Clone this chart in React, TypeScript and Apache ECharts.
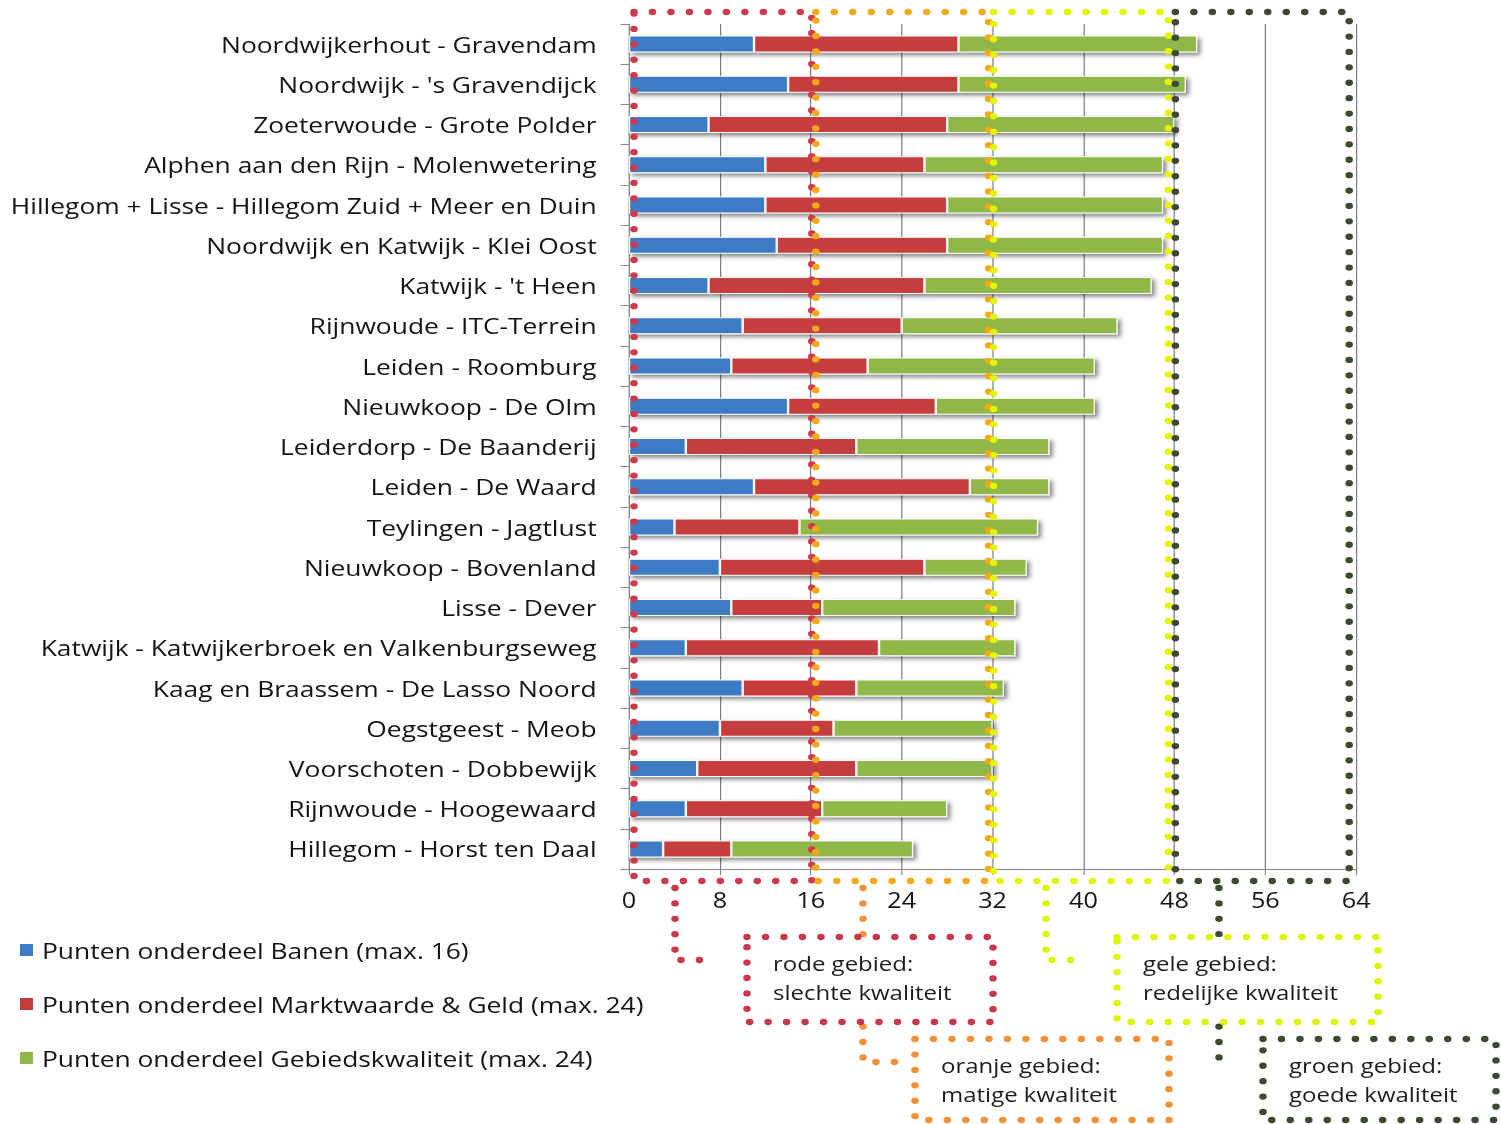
import React, { useEffect, useRef } from "react";
import * as echarts from "echarts";

// Projects, sorted by total score
const categories = [
  "Noordwijkerhout - Gravendam",
  "Noordwijk - 's Gravendijck",
  "Zoeterwoude - Grote Polder",
  "Alphen aan den Rijn - Molenwetering",
  "Hillegom + Lisse - Hillegom Zuid + Meer en Duin",
  "Noordwijk en Katwijk - Klei Oost",
  "Katwijk - 't Heen",
  "Rijnwoude - ITC-Terrein",
  "Leiden - Roomburg",
  "Nieuwkoop - De Olm",
  "Leiderdorp - De Baanderij",
  "Leiden - De Waard",
  "Teylingen - Jagtlust",
  "Nieuwkoop - Bovenland",
  "Lisse - Dever",
  "Katwijk - Katwijkerbroek en Valkenburgseweg",
  "Kaag en Braassem - De Lasso Noord",
  "Oegstgeest - Meob",
  "Voorschoten - Dobbewijk",
  "Rijnwoude - Hoogewaard",
  "Hillegom - Horst ten Daal",
];

const banen = [11, 14, 7, 12, 12, 13, 7, 10, 9, 14, 5, 11, 4, 8, 9, 5, 10, 8, 6, 5, 3];
const marktwaarde = [18, 15, 21, 14, 16, 15, 19, 14, 12, 13, 15, 19, 11, 18, 8, 17, 10, 10, 14, 12, 6];
const gebiedskwaliteit = [21, 20, 20, 21, 19, 19, 20, 19, 20, 14, 17, 7, 21, 9, 17, 12, 13, 14, 12, 11, 16];

const seriesNames = [
  "Punten onderdeel Banen (max. 16)",
  "Punten onderdeel Marktwaarde & Geld (max. 24)",
  "Punten onderdeel Gebiedskwaliteit (max. 24)",
];

// Quality zones along the score axis
const zoneBounds = [0, 16, 32, 48, 64];
const zoneTitles = ["rode gebied:", "oranje gebied:", "gele gebied:", "groen gebied:"];
const zoneNotes = ["slechte kwaliteit", "matige kwaliteit", "redelijke kwaliteit", "goede kwaliteit"];

const xTicks = { min: 0, max: 64, interval: 8 };

const SX = 1.2; // horizontal stretch of the whole drawing
const FULL_W = 1501;
const FULL_H = 1124;
const INNER_W = FULL_W / SX;

const BAR_COLORS = ["#3d7bc4", "#c63d3d", "#8fb84a"];
const ZONE_COLORS = ["#cc3a4c", "#f5a914", "#e4f500", "#3c4a2e"];
const BOX_COLORS = ["#c8384c", "#f3913a", "#dcf500", "#3c4a2e"];
const FONT = "'Open Sans', 'DejaVu Sans', sans-serif";

export default function App() {
  const ref = useRef<HTMLDivElement>(null);

  useEffect(() => {
    const el = ref.current;
    if (!el) return;
    const chart = echarts.init(el, null, { renderer: "svg" });
    const values = [banen, marktwaarde, gebiedskwaliteit];
    const gray = "#8a8a8a";

    chart.setOption({
      animation: false,
      backgroundColor: "#ffffff",
      grid: {
        left: 629 / SX,
        right: INNER_W - 1356 / SX,
        top: 24,
        bottom: FULL_H - 869,
      },
      xAxis: {
        type: "value",
        min: xTicks.min,
        max: xTicks.max,
        interval: xTicks.interval,
        axisLine: { show: true, lineStyle: { color: gray, width: 1 } },
        axisTick: { show: true, length: 6, lineStyle: { color: gray } },
        splitLine: { show: true, lineStyle: { color: "#7c7c7c", width: 1 } },
        axisLabel: { margin: 20, fontFamily: FONT, fontSize: 21, color: "#141414" },
      },
      yAxis: {
        type: "category",
        inverse: true,
        data: categories,
        axisLine: { show: true, lineStyle: { color: gray, width: 1 } },
        axisTick: { show: true, length: 7, lineStyle: { color: gray } },
        axisLabel: { margin: 27, fontFamily: FONT, fontSize: 22, color: "#141414" },
      },
      series: values.map((v, i) => ({
        type: "bar",
        name: seriesNames[i],
        stack: "punten",
        data: v,
        barWidth: 17,
        itemStyle: {
          color: BAR_COLORS[i],
          borderColor: "#ffffff",
          borderWidth: 1,
          shadowColor: "rgba(0,0,0,0.5)",
          shadowBlur: 4,
          shadowOffsetX: 2.5,
          shadowOffsetY: 2.5,
        },
      })),
    });

    const px = (v: number) => chart.convertToPixel({ xAxisIndex: 0 }, v) as number;
    const ix = (p: number) => p / SX;
    const dots = (color: string, fill: string | null = null) => ({
      fill,
      stroke: color,
      lineWidth: 6.3,
      lineDash: [0, 15.4],
      lineCap: "round",
    });

    const elements: any[] = [];

    // dotted zone frames over the plot (insets in final pixels)
    const insets = [
      [5, 1],
      [5, -4],
      [1, -6],
      [1, -7],
    ];
    for (let i = 0; i < 4; i++) {
      const x1 = px(zoneBounds[i]) + ix(insets[i][0]);
      const x2 = px(zoneBounds[i + 1]) + ix(insets[i][1]);
      elements.push({
        type: "rect",
        silent: true,
        z: 100,
        shape: { x: x1, y: 12, width: x2 - x1, height: 869 },
        style: dots(ZONE_COLORS[i]),
      });
    }

    // connectors from each zone to its note box
    const connectors = [
      { x: 675, y1: 888, y2: 960, x2: 715 },
      { x: 863, y1: 888, y2: 1062, x2: 895 },
      { x: 1046, y1: 888, y2: 960, x2: 1084 },
      { x: 1219, y1: 888, y2: 1062, x2: 1228 },
    ];
    connectors.forEach((c, i) => {
      elements.push({
        type: "polyline",
        silent: true,
        z: 90,
        shape: {
          points: [
            [ix(c.x), c.y1],
            [ix(c.x), c.y2],
            [ix(c.x2), c.y2 + (i === 3 ? 5 : 0)],
          ],
        },
        style: dots(BOX_COLORS[i]),
      });
    });

    // note boxes, filled white so connectors pass behind them
    const boxes = [
      { l: 747, r: 993, t: 937, b: 1022 },
      { l: 915, r: 1169, t: 1039, b: 1120 },
      { l: 1117, r: 1378, t: 937, b: 1022 },
      { l: 1263, r: 1496, t: 1039, b: 1120 },
    ];
    boxes.forEach((b, i) => {
      elements.push({
        type: "rect",
        silent: true,
        z: 95,
        shape: { x: ix(b.l), y: b.t, width: ix(b.r - b.l), height: b.b - b.t },
        style: dots(BOX_COLORS[i], "#ffffff"),
      });
      elements.push({
        type: "text",
        silent: true,
        z: 96,
        x: ix(b.l + 26),
        y: b.t + 26,
        style: {
          text: zoneTitles[i],
          fontFamily: FONT,
          fontSize: 20,
          fill: "#1c1c1c",
          verticalAlign: "middle",
        },
      });
      elements.push({
        type: "text",
        silent: true,
        z: 96,
        x: ix(b.l + 26),
        y: b.t + 55,
        style: {
          text: zoneNotes[i],
          fontFamily: FONT,
          fontSize: 20,
          fill: "#1c1c1c",
          verticalAlign: "middle",
        },
      });
    });

    // legend
    seriesNames.forEach((name, i) => {
      const cy = 950 + i * 54;
      elements.push({
        type: "rect",
        silent: true,
        shape: { x: ix(20), y: cy - 6, width: ix(13), height: 12 },
        style: { fill: BAR_COLORS[i] },
      });
      elements.push({
        type: "text",
        silent: true,
        x: ix(42),
        y: cy,
        style: {
          text: name,
          fontFamily: FONT,
          fontSize: 22,
          fill: "#141414",
          verticalAlign: "middle",
        },
      });
    });

    chart.setOption({ graphic: elements });

    return () => chart.dispose();
  }, []);

  return (
    <div
      style={{
        position: "fixed",
        left: 0,
        top: 0,
        width: FULL_W,
        height: FULL_H,
        overflow: "hidden",
        background: "#ffffff",
      }}
    >
      <div
        ref={ref}
        style={{
          width: INNER_W,
          height: FULL_H,
          transform: `scaleX(${SX})`,
          transformOrigin: "0 0",
        }}
      />
    </div>
  );
}
